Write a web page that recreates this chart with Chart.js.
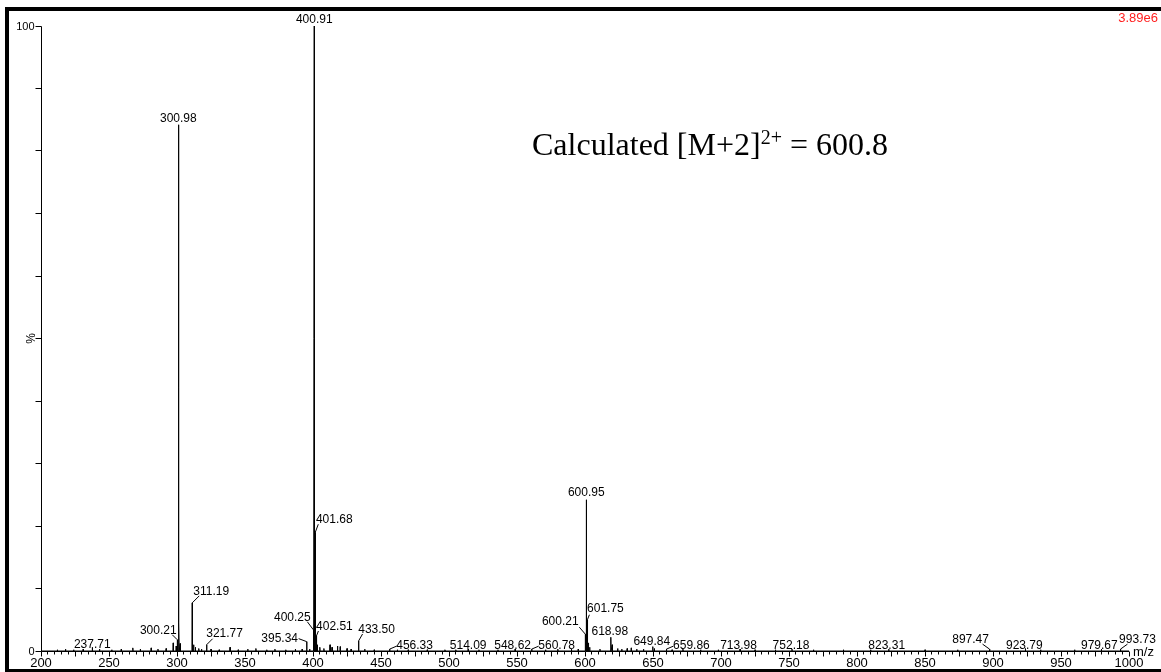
<!DOCTYPE html>
<html>
<head>
<meta charset="utf-8">
<title>Mass spectrum</title>
<script src="https://cdn.jsdelivr.net/npm/chart.js@4"></script>
<style>
  html, body { margin: 0; padding: 0; background: #fff; }
  canvas { display: block; }
</style>
</head>
<body>
<canvas id="spectrum" width="1161" height="672"></canvas>
<script>
// ---- data -------------------------------------------------------------
const xTickLabels = [200, 250, 300, 350, 400, 450, 500, 550, 600, 650, 700, 750, 800, 850, 900, 950, 1000];
const yTickLabels = [0, 100];
const fullScale = '3.89e6';

// labelled peaks: m/z and relative intensity (%)
const labelledMz  = [237.71, 300.21, 300.98, 311.19, 321.77, 395.34, 400.25, 400.91, 401.68, 402.51,
                     433.50, 456.33, 514.09, 548.62, 560.78, 600.21, 600.95, 601.75, 618.98, 649.84,
                     659.86, 713.98, 752.18, 823.31, 897.47, 923.79, 979.67, 993.73];
const labelledInt = [0.6, 1.8, 84.2, 7.7, 1.0, 1.5, 3.4, 100, 19.0, 2.4,
                     1.6, 0.3, 0.3, 0.3, 0.3, 2.7, 24.2, 5.0, 2.2, 0.7,
                     0.3, 0.3, 0.3, 0.3, 0.3, 0.4, 0.3, 0.3];

// unlabelled minor peaks
const minorMz  = [212, 218, 224, 231, 243, 252, 259, 267.5, 273, 281, 286, 292, 297.2, 299.4, 301.45, 302.3,
                  312.2, 313.5, 316, 318, 325, 331, 339, 345, 352, 358, 366, 372, 380, 387, 392, 397.5,
                  403.2, 405, 408, 412.5, 414, 418, 420, 425, 428, 438, 445, 462, 470, 484, 497, 505,
                  522, 536, 571, 580, 590, 595, 602.5, 603.4, 611, 620, 624, 627, 631, 634, 638, 643,
                  651, 664, 672, 685, 698, 725, 740, 768, 790, 810, 850, 874, 935, 960];
const minorInt = [0.2, 0.3, 0.2, 0.3, 0.3, 0.2, 0.3, 0.5, 0.3, 0.5, 0.3, 0.4, 1.3, 0.8, 4.5, 1.2,
                  1.0, 0.6, 0.4, 0.3, 0.3, 0.2, 0.6, 0.2, 0.3, 0.4, 0.2, 0.3, 0.2, 0.3, 0.3, 0.3,
                  1.0, 0.6, 0.4, 1.0, 0.6, 0.8, 0.7, 0.4, 0.3, 0.3, 0.2, 0.2, 0.2, 0.2, 0.2, 0.2,
                  0.2, 0.2, 0.2, 0.3, 0.3, 0.3, 1.3, 0.6, 0.3, 1.0, 0.4, 0.3, 0.4, 0.5, 0.3, 0.3,
                  0.4, 0.2, 0.3, 0.2, 0.2, 0.2, 0.2, 0.2, 0.2, 0.2, 0.2, 0.2, 0.2, 0.2];

// ---- label placement (pixels from the peak top: text dx, dy, optional leader end dx, dy) ----
const labelLayout = [
  [0, -4], [-19, -10, -5, -5], [0, -7], [19, -12, 7, -7], [18, -12, 6, -6],
  [-27, -4, -8, -3], [-21, -13, -6, -8], [0, -7], [19, -14, 3, -8], [18, -10, 2, -5],
  [18, -12, 4, -7], [25, -4, 7, -3], [0, -4], [-2.5, -4], [25, -4, 7, -3],
  [-25, -13, -6, -7], [0, -8], [18, -12, 2, -5], [-1, -7], [-1, -6],
  [25, -4, 7, -3], [-1.5, -4], [-1, -4], [-2, -4], [-19, -10, -7, -5],
  [-1, -4], [-2, -4], [17, -10, 7, -5]
];

// ---- build the stick spectrum as a continuous trace -------------------
const sticks = [];
labelledMz.forEach((m, i) => sticks.push([m, labelledInt[i]]));
minorMz.forEach((m, i) => sticks.push([m, minorInt[i]]));
sticks.sort((a, b) => a[0] - b[0]);

const HALF = 0.2;
const trace = [{ x: 200, y: 0 }];
sticks.forEach(([m, h]) => {
  trace.push({ x: m - HALF, y: 0 }, { x: m, y: h }, { x: m + HALF, y: 0 });
});
trace.push({ x: 1000, y: 0 });

const SANS = '"Liberation Sans", Arial, sans-serif';
const SERIF = '"Liberation Serif", "Times New Roman", serif';

// ---- axes, labels, annotations and frame ----------------------------
const spectrumDecor = {
  id: 'spectrumDecor',
  afterDatasetsDraw(chart) {
    const { ctx, scales: { x, y } } = chart;
    ctx.save();
    ctx.strokeStyle = '#000';
    ctx.fillStyle = '#000';
    ctx.lineWidth = 1;

    const ax = Math.floor(x.getPixelForValue(200)) + 0.5;
    const by = Math.floor(y.getPixelForValue(0)) + 0.5;
    const topY = Math.floor(y.getPixelForValue(100)) + 0.5;
    const rightX = x.getPixelForValue(1000);

    // axis lines
    ctx.beginPath();
    ctx.moveTo(ax, topY);
    ctx.lineTo(ax, by);
    ctx.lineTo(rightX, by);
    ctx.stroke();

    // y ticks every 10 %
    ctx.beginPath();
    for (let v = 0; v <= 100; v += 10) {
      const py = Math.floor(y.getPixelForValue(v)) + 0.5;
      ctx.moveTo(ax - 6, py);
      ctx.lineTo(ax, py);
    }
    ctx.stroke();

    // x ticks: every 5, longer every 25
    ctx.beginPath();
    for (let v = 200; v <= 1000; v += 5) {
      const px = Math.floor(x.getPixelForValue(v)) + 0.5;
      const len = v % 25 === 0 ? 5 : 3;
      ctx.moveTo(px, by);
      ctx.lineTo(px, by + len);
    }
    ctx.stroke();

    // x tick labels
    ctx.font = '13px ' + SANS;
    ctx.textAlign = 'center';
    ctx.textBaseline = 'alphabetic';
    xTickLabels.forEach(v => ctx.fillText(String(v), x.getPixelForValue(v), 667));

    // y tick labels
    ctx.font = '11px ' + SANS;
    ctx.textAlign = 'right';
    yTickLabels.forEach(v => ctx.fillText(String(v), ax - 7, y.getPixelForValue(v) + 4));

    // axis titles
    ctx.font = '13px ' + SANS;
    ctx.textAlign = 'left';
    ctx.fillText('m/z', 1133, 656);

    ctx.save();
    ctx.translate(31, y.getPixelForValue(50));
    ctx.rotate(-Math.PI / 2);
    ctx.font = '12px ' + SANS;
    ctx.textAlign = 'center';
    ctx.fillText('%', 0, 4);
    ctx.restore();

    // peak labels
    ctx.font = '12px ' + SANS;
    ctx.textAlign = 'center';
    labelledMz.forEach((m, i) => {
      const px = x.getPixelForValue(m);
      const py = y.getPixelForValue(labelledInt[i]);
      const [dx, dy, lx, ly] = labelLayout[i];
      if (lx !== undefined) {
        ctx.beginPath();
        ctx.moveTo(px, py);
        ctx.lineTo(px + lx, py + ly);
        ctx.stroke();
      }
      ctx.fillText(m.toFixed(2), px + dx, py + dy + 4.3);
    });

    // full-scale intensity
    ctx.fillStyle = '#ff2020';
    ctx.font = '13px ' + SANS;
    ctx.textAlign = 'right';
    ctx.fillText(fullScale, 1158, 22);

    // calculated mass annotation
    ctx.fillStyle = '#000';
    ctx.textAlign = 'left';
    ctx.font = '32px ' + SERIF;
    const part1 = 'Calculated [M+2]';
    let tx = 532;
    ctx.fillText(part1, tx, 155);
    tx += ctx.measureText(part1).width;
    ctx.font = '20px ' + SERIF;
    ctx.fillText('2+', tx, 144);
    tx += ctx.measureText('2+').width;
    ctx.font = '32px ' + SERIF;
    tx += ctx.measureText(' ').width;
    ctx.fillText('= 600.8', tx, 155);

    // frame
    ctx.fillStyle = '#000';
    ctx.fillRect(5, 7, 4, 665);
    ctx.fillRect(5, 7, 1156, 4);
    ctx.fillRect(5, 669, 1156, 3);

    ctx.restore();
  }
};

new Chart(document.getElementById('spectrum'), {
  type: 'line',
  data: {
    datasets: [{
      data: trace,
      borderColor: '#000',
      borderWidth: 1,
      pointRadius: 0,
      tension: 0,
      fill: false
    }]
  },
  options: {
    responsive: false,
    animation: false,
    devicePixelRatio: 1,
    layout: { padding: { left: 41, right: 32, top: 26, bottom: 21 } },
    scales: {
      x: { type: 'linear', min: 200, max: 1000, display: false },
      y: { type: 'linear', min: 0, max: 100, display: false }
    },
    plugins: { legend: { display: false }, tooltip: { enabled: false } }
  },
  plugins: [spectrumDecor]
});
</script>
</body>
</html>
